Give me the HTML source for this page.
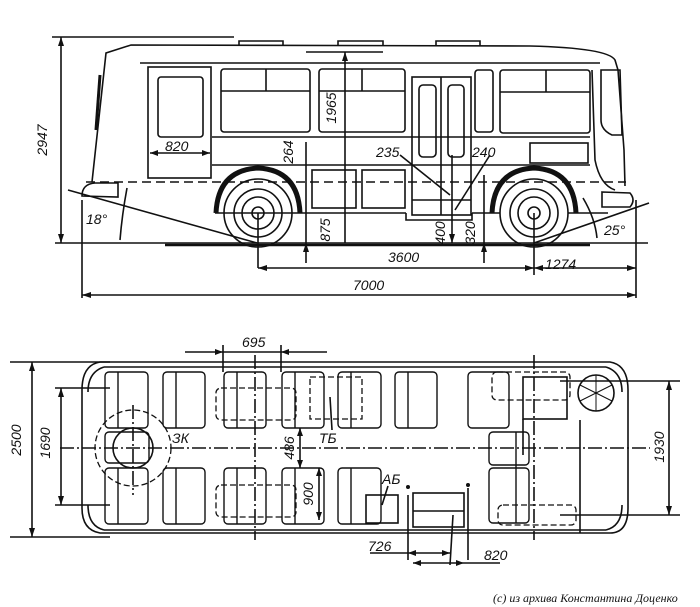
<!DOCTYPE html>
<html><head><meta charset="utf-8"><style>
html,body{margin:0;padding:0;background:#fff;}
svg{display:block}
text{font-family:"Liberation Sans",sans-serif;font-style:italic;font-size:14px;fill:#111}
</style></head><body>
<svg width="700" height="607" viewBox="0 0 700 607" xmlns="http://www.w3.org/2000/svg">
<g fill="none" stroke="#111" stroke-width="1.6">
<!-- ===== SIDE VIEW ===== -->
<path d="M92,182 L106,53 L131,45 L530,46 Q608,48 615,60 L618,70 L624,150 L625,186"/>
<path d="M239,46 v-5 h44 v5 M338,46 v-5 h45 v5 M436,46 v-5 h44 v5" />
<path d="M100,75 L96,130" stroke-width="3"/>
<line x1="140" y1="63" x2="600" y2="63"/>
<rect x="148" y="67" width="63" height="111"/>
<rect x="158" y="77" width="45" height="60" rx="3"/>
<rect x="221" y="69" width="89" height="63" rx="3"/>
<line x1="221" y1="91" x2="310" y2="91"/><line x1="266" y1="69" x2="266" y2="91"/>
<rect x="319" y="69" width="86" height="63" rx="3"/>
<line x1="319" y1="91" x2="405" y2="91"/><line x1="362" y1="69" x2="362" y2="91"/>
<rect x="412" y="77" width="59" height="138"/>
<line x1="441" y1="77" x2="441" y2="215"/>
<rect x="419" y="85" width="17" height="72" rx="4"/>
<rect x="448" y="85" width="16" height="72" rx="4"/>
<line x1="412" y1="200" x2="471" y2="200"/>
<rect x="475" y="70" width="18" height="62" rx="3"/>
<rect x="500" y="70" width="90" height="63" rx="3"/>
<line x1="500" y1="92" x2="590" y2="92"/><line x1="546" y1="70" x2="546" y2="92"/>
<path d="M601,70 L620,70 L622,135 L612,135 Q601,130 601,120 Z"/>
<path d="M592,70 L595,160 Q600,185 615,190"/>
<line x1="212" y1="137" x2="590" y2="137"/>
<line x1="212" y1="165" x2="590" y2="165"/>
<rect x="530" y="143" width="58" height="20"/>
<rect x="312" y="170" width="44" height="38"/>
<rect x="362" y="170" width="43" height="38"/>
<line x1="86" y1="182" x2="626" y2="182" stroke-dasharray="9,5"/>
<path d="M215,213 L406,213 M472,213 L500,213 M568,213 L608,213" />
<path d="M406,213 v7 h66 v-7"/>
<path d="M82,196 Q82,184 95,183 L118,183 L118,197 Z"/>
<path d="M602,192 L630,193 Q636,200 630,207 L602,207 Z"/>
<path d="M216,213 Q218,170 258,168 Q298,170 300,213" stroke-width="5"/>
<path d="M492,213 Q494,170 534,168 Q574,170 576,213" stroke-width="5"/>
<circle cx="258" cy="213" r="34"/><circle cx="258" cy="213" r="24"/><circle cx="258" cy="213" r="16"/><circle cx="258" cy="213" r="6"/>
<circle cx="534" cy="213" r="34"/><circle cx="534" cy="213" r="24"/><circle cx="534" cy="213" r="16"/><circle cx="534" cy="213" r="6"/>
<line x1="55" y1="243" x2="648" y2="243"/>
<line x1="165" y1="245" x2="590" y2="245" stroke-width="2.5"/>
<line x1="68" y1="190" x2="257" y2="243"/>
<line x1="534" y1="243" x2="649" y2="203"/>
<path d="M127,188 Q122,215 120,240"/>
<path d="M583,198 Q595,218 597,238"/>
<line x1="52" y1="37" x2="234" y2="37"/>
<line x1="61" y1="37" x2="61" y2="243"/>
<line x1="306" y1="52" x2="383" y2="52"/>
<line x1="345" y1="52" x2="345" y2="243"/>
<line x1="306" y1="142" x2="306" y2="263"/>
<line x1="452" y1="155" x2="452" y2="243"/>
<line x1="484" y1="175" x2="484" y2="263"/>
<line x1="400" y1="155" x2="450" y2="195"/>
<line x1="490" y1="155" x2="455" y2="210"/>
<line x1="258" y1="213" x2="258" y2="268"/>
<line x1="534" y1="213" x2="534" y2="275"/>
<line x1="82" y1="200" x2="82" y2="298"/>
<line x1="636" y1="200" x2="636" y2="298"/>
<line x1="258" y1="268" x2="636" y2="268"/>
<line x1="82" y1="295" x2="636" y2="295"/>
<line x1="150" y1="153" x2="210" y2="153"/>
<!-- ===== PLAN VIEW ===== -->
<path d="M100,362 L610,362 Q628,365 628,390 L628,508 Q628,533 610,533 L100,533 Q82,530 82,508 L82,390 Q82,365 100,362 Z"/>
<path d="M104,367 L606,367 M104,530 L606,530"/>
<path d="M88,392 Q88,372 104,367 M88,505 Q88,526 104,530 M622,392 Q622,372 606,367 M622,505 Q622,526 606,530"/>
<line x1="185" y1="352" x2="327" y2="352"/>
<line x1="223" y1="345" x2="223" y2="372"/>
<line x1="281" y1="345" x2="281" y2="372"/>
<line x1="10" y1="362" x2="110" y2="362"/><line x1="10" y1="537" x2="110" y2="537"/>
<line x1="32" y1="362" x2="32" y2="537"/>
<line x1="55" y1="388" x2="110" y2="388"/><line x1="55" y1="505" x2="110" y2="505"/>
<line x1="61" y1="388" x2="61" y2="505"/>
<line x1="560" y1="381" x2="680" y2="381"/><line x1="560" y1="515" x2="680" y2="515"/>
<line x1="669" y1="381" x2="669" y2="515"/>
<line x1="60" y1="448" x2="650" y2="448" stroke-dasharray="14,3,2,3"/>
<line x1="255" y1="355" x2="255" y2="540" stroke-dasharray="14,3,2,3"/>
<line x1="534" y1="355" x2="534" y2="540" stroke-dasharray="14,3,2,3"/>
<line x1="133" y1="405" x2="133" y2="495" stroke-dasharray="14,3,2,3"/>
<g stroke-width="1.4">
<rect x="105" y="372" width="43" height="56" rx="4"/><rect x="163" y="372" width="42" height="56" rx="4"/>
<rect x="224" y="372" width="42" height="56" rx="4"/><rect x="282" y="372" width="42" height="56" rx="4"/>
<rect x="338" y="372" width="43" height="56" rx="4"/><rect x="395" y="372" width="42" height="56" rx="4"/>
<rect x="468" y="372" width="41" height="56" rx="4"/>
<rect x="105" y="468" width="43" height="56" rx="4"/><rect x="163" y="468" width="42" height="56" rx="4"/>
<rect x="224" y="468" width="42" height="56" rx="4"/><rect x="282" y="468" width="42" height="56" rx="4"/>
<rect x="338" y="468" width="43" height="56" rx="4"/>
<rect x="105" y="432" width="44" height="31" rx="4"/>
<rect x="489" y="432" width="40" height="33" rx="4"/><rect x="489" y="468" width="40" height="55" rx="4"/>
<line x1="118" y1="372" x2="118" y2="428"/><line x1="176" y1="372" x2="176" y2="428"/><line x1="237" y1="372" x2="237" y2="428"/>
<line x1="295" y1="372" x2="295" y2="428"/><line x1="351" y1="372" x2="351" y2="428"/><line x1="408" y1="372" x2="408" y2="428"/>
<line x1="118" y1="468" x2="118" y2="524"/><line x1="176" y1="468" x2="176" y2="524"/><line x1="237" y1="468" x2="237" y2="524"/>
<line x1="295" y1="468" x2="295" y2="524"/><line x1="351" y1="468" x2="351" y2="524"/>
<line x1="516" y1="432" x2="516" y2="523"/>
</g>
<g stroke-dasharray="6,3" stroke-width="1.3">
<rect x="216" y="388" width="80" height="32" rx="5"/><rect x="310" y="377" width="52" height="42"/>
<rect x="216" y="485" width="80" height="32" rx="5"/>
<rect x="492" y="372" width="78" height="28" rx="5"/><rect x="498" y="505" width="78" height="20" rx="5"/>
<circle cx="133" cy="448" r="38"/>
</g>
<circle cx="133" cy="448" r="20"/>
<circle cx="596" cy="393" r="18"/>
<path d="M596,375 V411 M580,385 L612,401 M580,401 L612,385" stroke-width="1"/>
<rect x="523" y="377" width="44" height="42"/>
<path d="M523,419 V455 M580,420 V533"/>
<rect x="413" y="493" width="51" height="34"/>
<line x1="413" y1="511" x2="464" y2="511"/>
<rect x="366" y="495" width="32" height="28"/>
<line x1="408" y1="495" x2="408" y2="560"/><line x1="468" y1="488" x2="468" y2="560"/>
<line x1="453" y1="515" x2="450" y2="565"/>
<line x1="370" y1="553" x2="450" y2="553"/>
<line x1="413" y1="563" x2="500" y2="563"/>
<line x1="300" y1="428" x2="300" y2="468"/>
<line x1="319" y1="468" x2="319" y2="520"/>
<line x1="330" y1="397" x2="332" y2="430"/>
<line x1="388" y1="486" x2="382" y2="505"/>
</g>
<g fill="#111">
<circle cx="408" cy="487" r="2"/><circle cx="468" cy="485" r="2"/>
<path d="M61,37 l-3,9 h6z M61,243 l-3,-9 h6z M345,52 l-3,9 h6z M82,295 l9,-3 v6z M636,295 l-9,-3 v6z M258,268 l9,-3 v6z M534,268 l-9,-3 v6z M534,268 l9,-3 v6z M636,268 l-9,-3 v6z M150,153 l8,-3 v6z M210,153 l-8,-3 v6z M32,362 l-3,9 h6z M32,537 l-3,-9 h6z M61,388 l-3,9 h6z M61,505 l-3,-9 h6z M669,381 l-3,9 h6z M669,515 l-3,-9 h6z M223,352 l-8,-3 v6z M281,352 l8,-3 v6z M300,428 l-3,8 h6z M300,468 l-3,-8 h6z M319,468 l-3,8 h6z M319,520 l-3,-8 h6z M408,553 l8,-3 v6z M450,553 l-8,-3 v6z M413,563 l8,-3 v6z M464,563 l-8,-3 v6z M306,243 l-3,9 h6z M452,243 l-3,-9 h6z M484,243 l-3,9 h6z"/>
</g>
<g>
<text transform="translate(47,140) rotate(-90)" text-anchor="middle">2947</text>
<text transform="translate(336,108) rotate(-90)" text-anchor="middle">1965</text>
<text transform="translate(293,152) rotate(-90)" text-anchor="middle">264</text>
<text transform="translate(330,230) rotate(-90)" text-anchor="middle">875</text>
<text transform="translate(445,233) rotate(-90)" text-anchor="middle">400</text>
<text transform="translate(475,233) rotate(-90)" text-anchor="middle">320</text>
<text x="165" y="151">820</text>
<text x="376" y="157">235</text>
<text x="472" y="157">240</text>
<text x="86" y="224">18°</text>
<text x="604" y="235">25°</text>
<text x="388" y="262">3600</text>
<text x="545" y="269">1274</text>
<text x="353" y="290">7000</text>
<text x="242" y="347">695</text>
<text transform="translate(21,440) rotate(-90)" text-anchor="middle">2500</text>
<text transform="translate(50,443) rotate(-90)" text-anchor="middle">1690</text>
<text transform="translate(664,447) rotate(-90)" text-anchor="middle">1930</text>
<text transform="translate(294,448) rotate(-90)" text-anchor="middle">486</text>
<text transform="translate(313,494) rotate(-90)" text-anchor="middle">900</text>
<text x="172" y="443">ЗК</text>
<text x="319" y="443">ТБ</text>
<text x="382" y="484">АБ</text>
<text x="368" y="551">726</text>
<text x="484" y="560">820</text>
<text x="493" y="602" style="font-family:'Liberation Serif',serif;font-size:12px">(c) из архива Константина Доценко</text>
</g>
</svg>
</body></html>
